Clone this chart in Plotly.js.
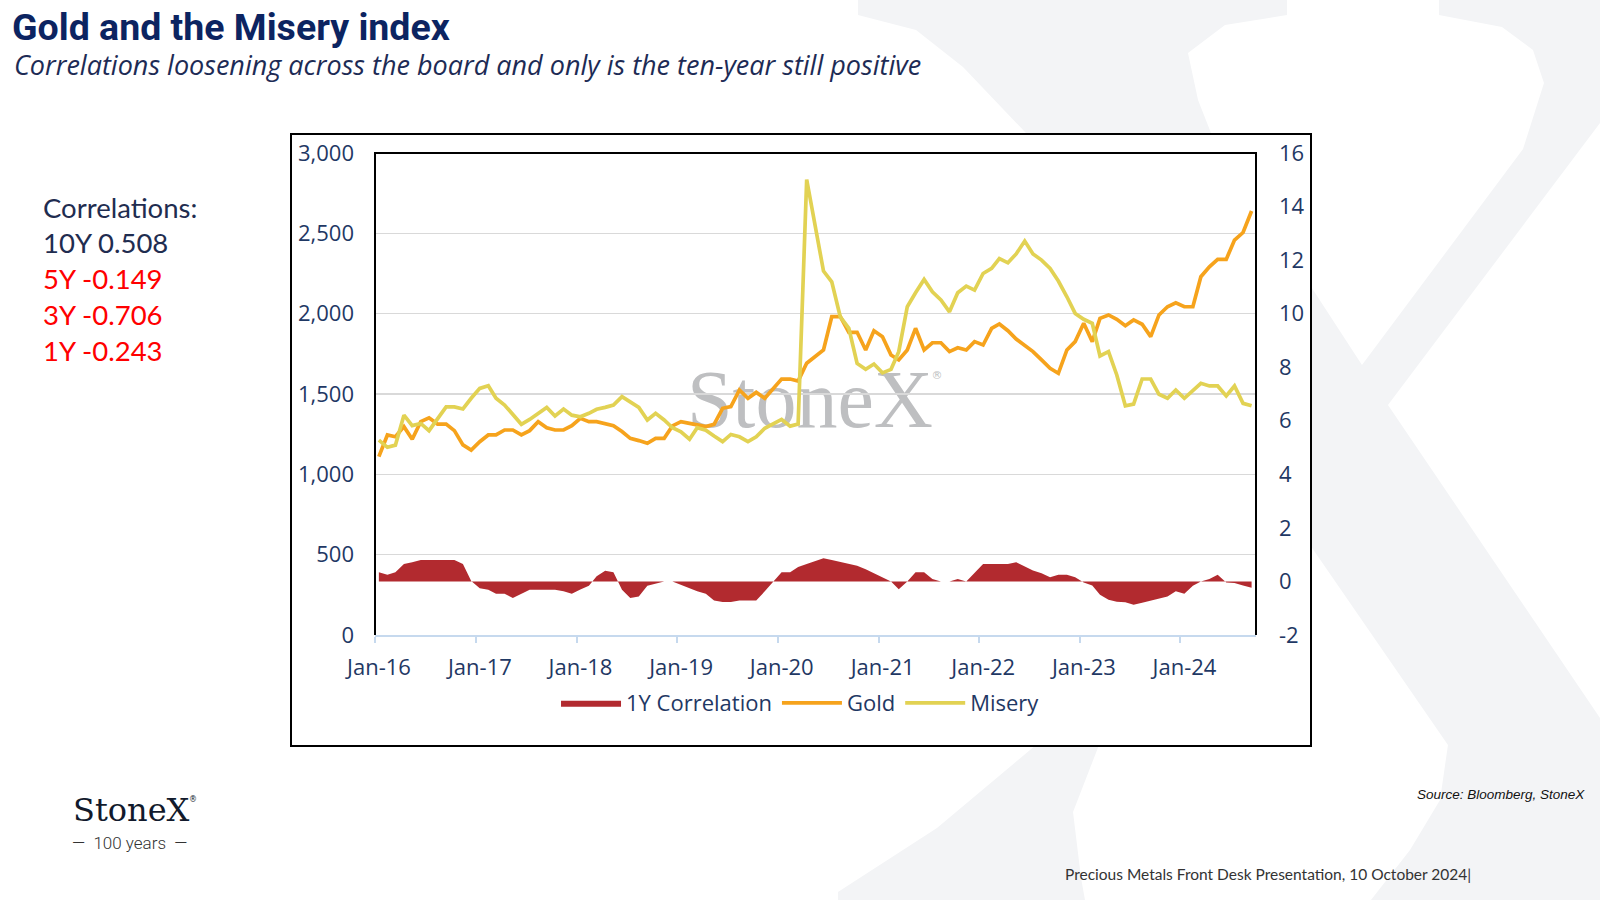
<!DOCTYPE html>
<html>
<head>
<meta charset="utf-8">
<script src="https://cdn.plot.ly/plotly-3.0.1.min.js"></script>
<style>
html,body{margin:0;padding:0;background:#ffffff;}
#chart{width:1600px;height:900px;}
</style>
</head>
<body>
<div id="chart"></div>
<script>
// ---------------- DATA ----------------
const startYear = 2016;            // first month: Jan-2016, monthly through Sep-2024
const gold = [
  1110,1245,1234,1297,1218,1328,1352,1313,1313,1272,1183,1151,
  1203,1245,1245,1276,1276,1245,1272,1328,1290,1276,1276,1303,
  1349,1328,1328,1317,1303,1266,1224,1210,1193,1224,1224,1301,
  1328,1317,1307,1297,1311,1411,1421,1525,1473,1510,1473,1529,
  1593,1593,1581,1691,1735,1774,1981,1981,1884,1884,1774,1894,
  1857,1743,1712,1774,1909,1774,1819,1819,1764,1788,1774,1826,
  1805,1909,1936,1894,1842,1805,1764,1712,1660,1629,1774,1826,
  1940,1826,1971,1992,1965,1925,1961,1934,1857,1992,2043,2068,
  2043,2043,2230,2292,2338,2338,2458,2505,2639
];
const misery = [
  5.28,5.01,5.09,6.21,5.82,5.90,5.63,6.09,6.52,6.52,6.44,6.84,
  7.21,7.31,6.84,6.59,6.21,5.87,6.05,6.28,6.50,6.18,6.44,6.21,
  6.15,6.28,6.43,6.50,6.59,6.90,6.69,6.50,6.03,6.28,6.03,5.74,
  5.59,5.31,5.74,5.65,5.43,5.22,5.49,5.40,5.22,5.40,5.72,5.88,
  6.05,5.80,5.88,15.01,13.31,11.59,11.19,9.88,9.45,8.14,7.92,8.12,
  7.79,7.92,8.58,10.26,10.78,11.28,10.82,10.51,10.07,10.78,11.03,10.88,
  11.50,11.69,12.06,11.90,12.23,12.71,12.23,12.00,11.69,11.22,10.63,10.01,
  9.79,9.64,8.42,8.58,7.71,6.56,6.62,7.56,7.56,6.99,6.84,7.15,
  6.84,7.15,7.40,7.30,7.30,6.93,7.30,6.65,6.56
];
const corr1y = [
  0.34,0.25,0.34,0.65,0.72,0.80,0.80,0.80,0.80,0.80,0.65,0.02,
  -0.25,-0.31,-0.46,-0.46,-0.62,-0.46,-0.31,-0.31,-0.31,-0.31,-0.37,-0.46,
  -0.30,-0.16,0.19,0.40,0.34,-0.31,-0.62,-0.56,-0.16,-0.09,0.00,0.00,
  -0.12,-0.25,-0.37,-0.46,-0.71,-0.77,-0.77,-0.71,-0.71,-0.71,-0.37,0.00,
  0.34,0.34,0.54,0.65,0.76,0.87,0.80,0.73,0.66,0.59,0.46,0.30,
  0.15,0.00,-0.29,0.00,0.34,0.34,0.09,0.00,0.00,0.09,0.00,0.33,
  0.65,0.65,0.65,0.65,0.72,0.56,0.41,0.31,0.16,0.25,0.25,0.16,
  -0.04,-0.15,-0.50,-0.68,-0.76,-0.78,-0.87,-0.80,-0.72,-0.64,-0.56,-0.37,
  -0.46,-0.16,0.00,0.09,0.25,-0.04,-0.06,-0.15,-0.24
];
const seriesNames = ['1Y Correlation','Gold','Misery'];
const y2TickVals = [-2,0,2,4,6,8,10,12,14,16];
const y2TickText = ['-2','0','2','4','6','8','10','12','14','16'];
const corrLabels = ['Correlations:','10Y 0.508','5Y -0.149','3Y -0.706','1Y -0.243'];
const corrColors = ['#1f2d50','#1f2d50','#ff0000','#ff0000','#ff0000'];

// month categories (15th of each month)
const months = [];
for (let i = 0; i < gold.length; i++) {
  const y = startYear + Math.floor(i / 12), m = (i % 12) + 1;
  months.push(y + '-' + String(m).padStart(2, '0') + '-15');
}

// ---------------- GEOMETRY HELPERS (decoration only) ----------------
const L = 375, R = 1256, T = 153, B = 635, W = R - L, H = B - T;
const px = x => (x - L) / W;
const py = y => (B - y) / H;
function path(pts) {
  return pts.map((p, i) => (i ? 'L' : 'M') + px(p[0]).toFixed(4) + ',' + py(p[1]).toFixed(4)).join(' ') + ' Z';
}
const thickArm = [[858,0],[858,15],[916,30],[963,67],[1026,133],[1448,745],[1440,800],[1410,850],[1371,900],
  [1600,900],[1600,718],[1388,405],[1362,365],[1211,133],[1198,100],[1188,53],[1225,25],[1287,15],[1287,0]];
const thinArm = [[1439,0],[1439,15],[1502,27],[1533,50],[1544,83],[1523,149],[1362,365],[1036,745],[937,828],
  [838,892],[838,900],[1085,900],[1081,878],[1073,812],[1099,745],[1388,405],[1600,123],[1600,0]];

const navy = '#1f3864';
const tickFont = {family: 'Open Sans', size: 22, color: navy};

const traces = [
  {x: months, y: corr1y, name: seriesNames[0], type: 'scatter', mode: 'lines',
   line: {width: 0, color: '#b22a2f'}, fill: 'tozeroy', fillcolor: '#b22a2f', yaxis: 'y2'},
  {x: months, y: gold, name: seriesNames[1], type: 'scatter', mode: 'lines',
   line: {color: '#f6a31c', width: 3.7}},
  {x: months, y: misery, name: seriesNames[2], type: 'scatter', mode: 'lines',
   line: {color: '#e2d253', width: 3.7}, yaxis: 'y2'}
];

const annotations = corrLabels.map((t, i) => ({
  text: t, xref: 'paper', yref: 'paper', x: px(41), y: py(207 + i * 35.8),
  xanchor: 'left', yanchor: 'middle', showarrow: false,
  font: {family: 'Lato', size: 27.5, color: corrColors[i]}
}));
annotations.push(
  {text: 'Correlations loosening across the board and only is the ten-year still positive',
   xref: 'paper', yref: 'paper', x: px(12), y: py(65), xanchor: 'left', yanchor: 'middle', showarrow: false,
   font: {family: 'Open Sans', size: 27, color: '#1d2b55', style: 'italic'}},
  {text: 'StoneX', xref: 'paper', yref: 'paper', x: px(71), y: py(810), xanchor: 'left', yanchor: 'middle',
   showarrow: false, font: {family: 'DejaVu Serif', size: 32, color: '#121a2c'}},
  {text: '®', xref: 'paper', yref: 'paper', x: px(187), y: py(799), xanchor: 'left', yanchor: 'middle',
   showarrow: false, font: {family: 'DejaVu Sans', size: 8, color: '#121a2c'}},
  {text: '—  100 years  —', xref: 'paper', yref: 'paper', x: px(129), y: py(843), xanchor: 'center', yanchor: 'middle',
   showarrow: false, font: {family: 'Roboto', size: 17, color: '#333333', weight: 300}},
  {text: 'Source: Bloomberg, StoneX', xref: 'paper', yref: 'paper', x: px(1587), y: py(794), xanchor: 'right', yanchor: 'middle',
   showarrow: false, font: {family: 'Liberation Sans', size: 13.5, color: '#111111', style: 'italic'}},
  {text: 'Precious Metals Front Desk Presentation, 10 October 2024|', xref: 'paper', yref: 'paper', x: px(1063), y: py(874),
   xanchor: 'left', yanchor: 'middle', showarrow: false, font: {family: 'Lato', size: 15.5, color: '#333333'}}
);

const layout = {
  width: 1600, height: 900,
  margin: {l: L, r: 1600 - R, t: T, b: 900 - B, pad: 0},
  paper_bgcolor: '#ffffff', plot_bgcolor: 'rgba(0,0,0,0)',
  title: {text: 'Gold and the Misery index', xref: 'container', yref: 'container',
    x: 12 / 1600, xanchor: 'left', y: 1 - 27 / 900, yanchor: 'middle',
    font: {family: 'Roboto', size: 37.5, color: '#0c2461', weight: 700}},
  showlegend: true,
  legend: {orientation: 'h', x: 0.483, xanchor: 'center', y: py(703), yanchor: 'middle',
    font: {family: 'Open Sans', size: 22, color: navy}, itemwidth: 60, traceorder: 'normal',
    bgcolor: 'rgba(0,0,0,0)'},
  xaxis: {type: 'date', range: ['2016-01-01', '2024-10-01'], tick0: '2016-01-01', dtick: 'M12',
    tickformat: '%b-%y', ticks: 'outside', ticklen: 6, tickwidth: 2, tickcolor: '#c6d9ee',
    showline: true, linecolor: '#c6d9ee', linewidth: 2, showgrid: false, zeroline: false,
    tickfont: tickFont, ticklabelstandoff: 6, ticklabelshift: 4},
  yaxis: {range: [0, 3000], dtick: 500, tickformat: ',d', showgrid: true, gridcolor: '#d9d9d9', gridwidth: 1.5,
    zeroline: false, showline: false, ticks: '', tickfont: tickFont, ticklabelstandoff: 20},
  yaxis2: {overlaying: 'y', side: 'right', range: [-2, 16], tickvals: y2TickVals, ticktext: y2TickText,
    showgrid: false, zeroline: false, showline: false, ticks: '', tickfont: tickFont, ticklabelstandoff: 22},
  shapes: [
    {type: 'path', path: path(thickArm), xref: 'paper', yref: 'paper', fillcolor: '#f3f4f6', line: {width: 0}, layer: 'below'},
    {type: 'path', path: path(thinArm), xref: 'paper', yref: 'paper', fillcolor: '#f3f4f6', line: {width: 0}, layer: 'below'},
    {type: 'rect', xref: 'paper', yref: 'paper', x0: px(291), x1: px(1311), y0: py(746), y1: py(134),
     fillcolor: '#ffffff', line: {color: '#000000', width: 2}, layer: 'below'},
    {type: 'rect', xref: 'paper', yref: 'paper', x0: px(660), x1: px(960), y0: py(440), y1: py(340),
     fillcolor: 'rgba(0,0,0,0)', line: {width: 0}, layer: 'below',
     label: {text: 'StoneX', textposition: 'middle center',
       font: {family: 'Liberation Serif', size: 82, color: '#bebfc1'}}},
    {type: 'rect', xref: 'paper', yref: 'paper', x0: px(928), x1: px(946), y0: py(382), y1: py(366),
     fillcolor: 'rgba(0,0,0,0)', line: {width: 0}, layer: 'below',
     label: {text: '®', textposition: 'middle center',
       font: {family: 'DejaVu Sans', size: 11, color: '#bebfc1'}}},
    {type: 'path', path: 'M0,0 L0,1 L1,1 L1,0', xref: 'paper', yref: 'paper',
     line: {color: '#000000', width: 2}, fillcolor: 'rgba(0,0,0,0)', layer: 'above'}
  ],
  annotations: annotations
};

Plotly.newPlot('chart', traces, layout, {staticPlot: true, displayModeBar: false});
</script>
</body>
</html>
